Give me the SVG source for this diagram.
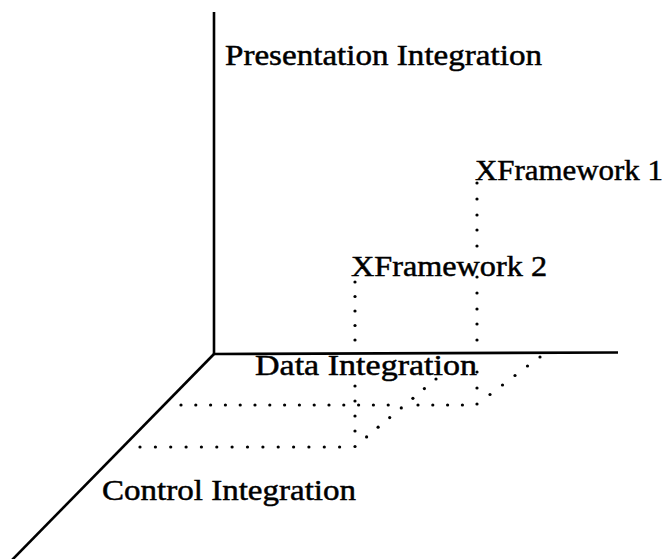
<svg xmlns="http://www.w3.org/2000/svg" width="672" height="559" viewBox="0 0 672 559">
<defs>
<style>
.axis{stroke:#000;stroke-width:2.6;fill:none;stroke-linecap:butt}
.lbl{font-family:"Liberation Serif","DejaVu Serif",serif;font-size:30px;fill:#000;stroke:#000;stroke-width:0.5}
.dot{fill:#000}
</style>
</defs>
<rect width="672" height="559" fill="#fff"/>
<g id="axes">
<line class="axis" x1="214" y1="12" x2="214" y2="354"/>
<line class="axis" x1="213" y1="354" x2="618" y2="352.5"/>
<line class="axis" x1="215" y1="353" x2="12" y2="560"/>
</g>
<g id="connectors" class="dot">
<circle cx="477" cy="183" r="1.6"/><circle cx="477" cy="199" r="1.6"/><circle cx="477" cy="215" r="1.6"/><circle cx="477" cy="230" r="1.6"/><circle cx="477" cy="246" r="1.6"/><circle cx="477" cy="277" r="1.6"/><circle cx="477" cy="293" r="1.6"/><circle cx="477" cy="309" r="1.6"/><circle cx="477" cy="324" r="1.6"/><circle cx="477" cy="340" r="1.6"/><circle cx="477" cy="372" r="1.6"/><circle cx="477" cy="388" r="1.6"/><circle cx="477" cy="404" r="1.6"/>
<circle cx="355" cy="282" r="1.6"/><circle cx="355" cy="296.5" r="1.6"/><circle cx="355" cy="311" r="1.6"/><circle cx="355" cy="325.5" r="1.6"/><circle cx="355" cy="340" r="1.6"/><circle cx="355" cy="386" r="1.6"/><circle cx="355" cy="401" r="1.6"/><circle cx="355" cy="416" r="1.6"/><circle cx="355" cy="431" r="1.6"/><circle cx="355" cy="446.5" r="1.6"/>
<circle cx="181" cy="405" r="1.6"/><circle cx="195.8" cy="405" r="1.6"/><circle cx="210.6" cy="405" r="1.6"/><circle cx="225.4" cy="405" r="1.6"/><circle cx="240.2" cy="405" r="1.6"/><circle cx="255" cy="405" r="1.6"/><circle cx="269.8" cy="405" r="1.6"/><circle cx="284.6" cy="405" r="1.6"/><circle cx="299.4" cy="405" r="1.6"/><circle cx="314.2" cy="405" r="1.6"/><circle cx="329" cy="405" r="1.6"/><circle cx="343.8" cy="405" r="1.6"/><circle cx="358.6" cy="405" r="1.6"/><circle cx="373.4" cy="405" r="1.6"/><circle cx="388.2" cy="405" r="1.6"/><circle cx="418" cy="405" r="1.6"/><circle cx="432.8" cy="405" r="1.6"/><circle cx="447.6" cy="405" r="1.6"/><circle cx="462.4" cy="405" r="1.6"/>
<circle cx="140" cy="447" r="1.6"/><circle cx="155.4" cy="447" r="1.6"/><circle cx="170.7" cy="447" r="1.6"/><circle cx="186.1" cy="447" r="1.6"/><circle cx="201.4" cy="447" r="1.6"/><circle cx="216.8" cy="447" r="1.6"/><circle cx="232.1" cy="447" r="1.6"/><circle cx="247.5" cy="447" r="1.6"/><circle cx="262.9" cy="447" r="1.6"/><circle cx="278.2" cy="447" r="1.6"/><circle cx="293.6" cy="447" r="1.6"/><circle cx="308.9" cy="447" r="1.6"/><circle cx="324.3" cy="447" r="1.6"/><circle cx="339.6" cy="447" r="1.6"/>
<circle cx="490" cy="394.5" r="1.6"/><circle cx="502.5" cy="385" r="1.6"/><circle cx="515" cy="375.5" r="1.6"/><circle cx="527.5" cy="366" r="1.6"/><circle cx="540" cy="357" r="1.6"/>
<circle cx="366.6" cy="436.9" r="1.6"/><circle cx="378.1" cy="427.2" r="1.6"/><circle cx="389.7" cy="417.6" r="1.6"/><circle cx="401.3" cy="407.9" r="1.6"/><circle cx="412.9" cy="398.3" r="1.6"/><circle cx="424.4" cy="388.6" r="1.6"/><circle cx="436" cy="379" r="1.6"/>
</g>
<g id="presentation"><text class="lbl" x="225" y="65" textLength="317" lengthAdjust="spacingAndGlyphs">Presentation Integration</text></g>
<g id="xframework1"><text class="lbl" x="475" y="180" textLength="188" lengthAdjust="spacingAndGlyphs">XFramework 1</text></g>
<g id="xframework2"><text class="lbl" x="351" y="276" textLength="196" lengthAdjust="spacingAndGlyphs">XFramework 2</text></g>
<g id="data"><text class="lbl" x="255" y="375" textLength="222" lengthAdjust="spacingAndGlyphs">Data Integration</text></g>
<g id="control"><text class="lbl" x="102" y="500" textLength="254" lengthAdjust="spacingAndGlyphs">Control Integration</text></g>
</svg>
